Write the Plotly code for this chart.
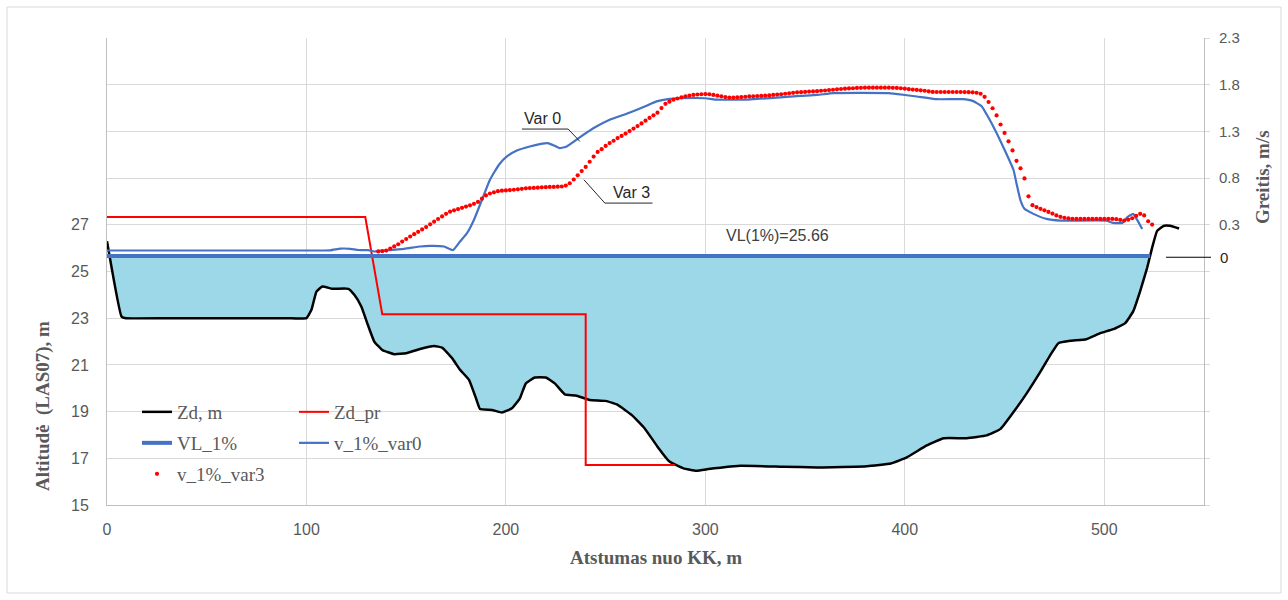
import plotly.graph_objects as go

# ---------------- data ----------------
# ground profile Zd (distance m, altitude m)
zd_x = [0, 7.3, 9.5, 30, 60, 90, 100, 102.5, 105, 108, 113, 121, 124, 127.5, 130.8, 134, 138,
        144, 150, 156.5, 164, 168, 173, 177, 181.5, 185, 187, 193, 198, 203, 207, 210, 214.5,
        220, 224.5, 229.5, 235, 242, 250, 256, 263, 269.5, 276, 282, 289, 295.5, 301.5,
        307.5, 317.5, 339, 356, 381, 393, 401, 411, 419.5, 431, 441, 448, 454.5, 461, 468,
        473, 477, 483, 491, 498, 504.5, 510.5, 514.5, 518, 521.5, 524, 526.5, 530, 533, 537.5]
zd_y = [26.3, 23.07, 23.0, 23.0, 23.0, 23.0, 23.0, 23.36, 24.14, 24.36, 24.26, 24.26, 24.0,
        23.5, 22.71, 22.0, 21.64, 21.46, 21.5, 21.67, 21.81, 21.74, 21.29, 20.79, 20.36,
        19.57, 19.11, 19.07, 18.96, 19.14, 19.57, 20.21, 20.46, 20.46, 20.21, 19.74, 19.69,
        19.5, 19.46, 19.29, 18.86, 18.29, 17.5, 16.86, 16.57, 16.47, 16.54, 16.6, 16.68,
        16.64, 16.61, 16.66, 16.78, 17.04, 17.55, 17.86, 17.86, 17.98, 18.26, 18.98, 19.77,
        20.71, 21.43, 21.93, 22.03, 22.10, 22.36, 22.53, 22.79, 23.29, 24.16, 25.16, 26.02,
        26.74, 26.96, 26.96, 26.84]

# design bottom Zd_pr
zdpr_x = [0, 129.5, 138.0, 240.0, 240.0, 284.7]
zdpr_y = [27.33, 27.33, 23.17, 23.17, 16.71, 16.71]

# water level VL 1%
vl_level = 25.66
vl_x = [0, 523]

# velocity, variant 0 (m/s)
v0_x = [0, 20, 40, 60, 80, 100, 112, 117, 122, 126, 131, 134, 140, 149, 157, 162, 169, 173.5,
        177, 180.5, 184, 188, 192, 196.5, 200.5, 205.5, 212, 217, 221, 224.5, 227, 230.5,
        237, 244, 252, 260.5, 269, 275.5, 282, 287.5, 300, 305, 321, 327.5, 337.5, 347.5,
        356, 364, 377, 392, 400, 406, 416, 429, 434, 438.5, 441.5, 446, 450, 454.5, 456,
        458, 460, 464.5, 471, 478, 501, 504.5, 509, 511.5, 514.5, 516.5, 519]
v0_y = [0.025, 0.025, 0.025, 0.025, 0.025, 0.025, 0.027, 0.045, 0.043, 0.03, 0.029, 0.014,
        0.025, 0.043, 0.068, 0.075, 0.068, 0.029, 0.121, 0.21, 0.354, 0.568, 0.782, 0.943,
        1.032, 1.096, 1.139, 1.164, 1.175, 1.146, 1.121, 1.139, 1.236, 1.336, 1.425, 1.489,
        1.561, 1.621, 1.648, 1.655, 1.655, 1.64, 1.64, 1.65, 1.664, 1.68, 1.69, 1.71, 1.712,
        1.71, 1.69, 1.674, 1.645, 1.645, 1.627, 1.57, 1.464, 1.284, 1.103, 0.887, 0.742,
        0.562, 0.471, 0.417, 0.363, 0.345, 0.345, 0.32, 0.32, 0.381, 0.417, 0.352, 0.255]

# velocity, variant 3 (m/s), stations every 2 m from 136 m
v3_start, v3_step = 136, 2
v3_y = [
    0.015, 0.018, 0.024, 0.045, 0.068, 0.092, 0.12, 0.148, 0.175, 0.2,        # 136-154
    0.225, 0.25, 0.276, 0.305, 0.333, 0.362, 0.39, 0.418, 0.44, 0.455,        # 156-174
    0.468, 0.482, 0.495, 0.508, 0.525, 0.545, 0.58, 0.615, 0.635, 0.648,      # 176-194
    0.66, 0.665, 0.668, 0.672, 0.675, 0.68, 0.685, 0.69, 0.693, 0.695,        # 196-214
    0.698, 0.701, 0.703, 0.705, 0.706, 0.708, 0.71, 0.72, 0.745, 0.785,       # 216-234
    0.83, 0.875, 0.92, 0.975, 1.03, 1.08, 1.11, 1.145, 1.175, 1.2,            # 236-254
    1.228, 1.252, 1.277, 1.304, 1.33, 1.357, 1.385, 1.415, 1.444, 1.472,      # 256-274
    1.5, 1.55, 1.595, 1.618, 1.64, 1.652, 1.665, 1.675, 1.683, 1.69,          # 276-294
    1.695, 1.698, 1.7, 1.698, 1.69, 1.682, 1.675, 1.668, 1.662, 1.662,        # 296-314
    1.665, 1.668, 1.671, 1.674, 1.676, 1.678, 1.68, 1.682, 1.685, 1.69,       # 316-334
    1.694, 1.698, 1.703, 1.708, 1.713, 1.718, 1.72, 1.723, 1.726, 1.728,      # 336-354
    1.731, 1.735, 1.738, 1.742, 1.746, 1.75, 1.754, 1.757, 1.76, 1.762,       # 356-374
    1.765, 1.767, 1.768, 1.768, 1.768, 1.768, 1.768, 1.768, 1.768, 1.767,     # 376-394
    1.765, 1.762, 1.757, 1.752, 1.748, 1.744, 1.74, 1.735, 1.728, 1.723,      # 396-414
    1.722, 1.722, 1.722, 1.722, 1.722, 1.722, 1.722, 1.721, 1.72, 1.718,      # 416-434
    1.714, 1.703, 1.67, 1.615, 1.548, 1.471, 1.374, 1.284, 1.194, 1.096,      # 436-454
    0.985, 0.905, 0.796, 0.605, 0.51, 0.49, 0.471, 0.455, 0.438, 0.42,        # 456-474
    0.4, 0.385, 0.375, 0.368, 0.365, 0.363, 0.363, 0.363, 0.363, 0.363,       # 476-494
    0.363, 0.363, 0.363, 0.363, 0.363, 0.36, 0.352, 0.345, 0.355, 0.37,       # 496-514
    0.395, 0.417, 0.4, 0.338, 0.302,                                          # 516-524
]
v3_x = [v3_start + v3_step * i for i in range(len(v3_y))]

# axis ticks
x_ticks = [0, 100, 200, 300, 400, 500]
left_ticks = [15, 17, 19, 21, 23, 25, 27, 29, 31, 33, 35]
left_labels = ["15", "17", "19", "21", "23", "25", "27", "", "", "", ""]
right_ticks = [-2.7, -2.2, -1.7, -1.2, -0.7, -0.2, 0.3, 0.8, 1.3, 1.8, 2.3]
right_labels = ["", "", "", "", "", "", "0.3", "0.8", "1.3", "1.8", "2.3"]

# ---------------- water area (ground clipped at VL) ----------------
wx, wy = [], []
for i in range(len(zd_x)):
    x0, y0 = zd_x[i], zd_y[i]
    if i > 0:
        xp, yp = zd_x[i - 1], zd_y[i - 1]
        if (yp - vl_level) * (y0 - vl_level) < 0:
            t = (vl_level - yp) / (y0 - yp)
            wx.append(xp + t * (x0 - xp))
            wy.append(vl_level)
    if y0 <= vl_level:
        wx.append(x0)
        wy.append(y0)

# ---------------- figure ----------------
W, H = 1288, 600
L, R, T, B = 107, 84, 38, 95
PW, PH = W - L - R, H - T - B

BLUE = "#4472C4"
GRID = "#D9D9D9"
GREY = "#595959"
SANS = "Liberation Sans, Arial, sans-serif"
SERIF = "Liberation Serif, Times New Roman, serif"
SMOOTH = 0.35


def px(X):
    return (X - L) / PW


def py(Y):
    return (H - B - Y) / PH


fig = go.Figure()

# base for water fill
fig.add_trace(go.Scatter(x=[wx[0], wx[-1]], y=[vl_level, vl_level], mode="lines",
                         line=dict(width=0), showlegend=False, hoverinfo="skip"))
fig.add_trace(go.Scatter(x=wx, y=wy, mode="lines", fill="tonexty", fillcolor="#9DD8E8",
                         line=dict(width=0, shape="spline", smoothing=SMOOTH),
                         showlegend=False, hoverinfo="skip"))

fig.add_trace(go.Scatter(x=zd_x, y=zd_y, mode="lines", name="Zd, m",
                         line=dict(color="black", width=2.5, shape="spline", smoothing=SMOOTH),
                         legend="legend"))
fig.add_trace(go.Scatter(x=zdpr_x, y=zdpr_y, mode="lines", name="Zd_pr",
                         line=dict(color="#FF0000", width=2), legend="legend2"))
fig.add_trace(go.Scatter(x=vl_x, y=[vl_level] * len(vl_x), mode="lines", name="VL_1%",
                         line=dict(color=BLUE, width=4), legend="legend3"))
fig.add_trace(go.Scatter(x=v0_x, y=v0_y, mode="lines", name="v_1%_var0", yaxis="y2",
                         line=dict(color=BLUE, width=2.2, shape="spline", smoothing=0.4),
                         legend="legend4"))
fig.add_trace(go.Scatter(x=v3_x, y=v3_y, mode="markers", name="v_1%_var3", yaxis="y2",
                         marker=dict(color="#FF0000", size=4.2, symbol="circle"),
                         legend="legend5"))

# legends (two columns, three rows)
legend_font = dict(family=SERIF, size=19, color=GREY)
leg_pos = {
    "legend": (137, 412), "legend2": (294, 412),
    "legend3": (137, 443), "legend4": (294, 443),
    "legend5": (137, 474),
}
legend_layout = {}
for name, (X, Y) in leg_pos.items():
    legend_layout[name] = dict(x=px(X), y=py(Y), xanchor="left", yanchor="middle",
                               bgcolor="rgba(0,0,0,0)", font=legend_font,
                               itemwidth=30, borderwidth=0)

ann = []
title_font = dict(family=SERIF, size=19, color=GREY)
# axis titles
ann.append(dict(text="<b>Atstumas nuo KK, m</b>", xref="paper", yref="paper",
                x=0.5, y=py(557), showarrow=False, xanchor="center", yanchor="middle",
                font=title_font))
ann.append(dict(text="<b>Altitudė  (LAS07), m</b>", xref="paper", yref="paper",
                x=px(43), y=py(406), showarrow=False, textangle=-90,
                xanchor="center", yanchor="middle", font=title_font))
ann.append(dict(text="<b>Greitis, m/s</b>", xref="paper", yref="paper",
                x=px(1262), y=py(177), showarrow=False, textangle=-90,
                xanchor="center", yanchor="middle", font=title_font))
# labels inside plot
ann.append(dict(text="Var 0", xref="x", yref="y", x=218.5, y=31.55, showarrow=False,
                xanchor="center", yanchor="middle",
                font=dict(family=SANS, size=16, color="#262626")))
ann.append(dict(text="Var 3", xref="x", yref="y", x=263.2, y=28.39, showarrow=False,
                xanchor="center", yanchor="middle",
                font=dict(family=SANS, size=16, color="#262626")))
ann.append(dict(text="VL(1%)=25.66", xref="x", yref="y", x=309.3, y=26.55, showarrow=False,
                xanchor="left", yanchor="middle",
                font=dict(family=SANS, size=16, color="#404040")))
ann.append(dict(text="0", xref="paper", yref="y", x=px(1224), y=vl_level - 0.05,
                showarrow=False, xanchor="center", yanchor="middle",
                font=dict(family=SANS, size=15, color="#262626")))

shapes = []
# leader lines
for (xa, ya, xb, yb) in [(208.0, 31.1, 231.2, 31.1), (231.2, 31.1, 237.1, 30.57),
                         (249.6, 27.93, 273.5, 27.93), (249.6, 27.93, 239.1, 28.93)]:
    shapes.append(dict(type="line", xref="x", yref="y", x0=xa, y0=ya, x1=xb, y1=yb,
                       line=dict(color="#262626", width=1), layer="above"))
# "0" marker line on the right
shapes.append(dict(type="line", xref="paper", yref="y", x0=px(1166), x1=px(1211),
                   y0=vl_level - 0.05, y1=vl_level - 0.05,
                   line=dict(color="black", width=1), layer="above"))
# legend background (covers gridlines)
shapes.append(dict(type="rect", xref="paper", yref="paper", x0=px(127), x1=px(440),
                   y0=py(488), y1=py(393), fillcolor="white", line=dict(width=0),
                   layer="between"))
# chart border
shapes.append(dict(type="rect", xref="paper", yref="paper", x0=px(7), x1=px(1281),
                   y0=py(593), y1=py(7), line=dict(color=GRID, width=1), layer="below"))

fig.update_layout(
    width=W, height=H, autosize=False,
    margin=dict(l=L, r=R, t=T, b=B, pad=0),
    paper_bgcolor="white", plot_bgcolor="white",
    showlegend=True,
    xaxis=dict(range=[0, 550], tickvals=x_ticks, showgrid=True, gridcolor=GRID, gridwidth=1,
               showline=True, linecolor="#BFBFBF", linewidth=1, ticks="", zeroline=False,
               tickfont=dict(family=SANS, size=16, color=GREY), ticklabelstandoff=10),
    yaxis=dict(range=[15, 35], tickvals=left_ticks, ticktext=left_labels, showgrid=True,
               gridcolor=GRID, gridwidth=1, showline=True, linecolor="#BFBFBF", linewidth=1,
               ticks="", zeroline=False, tickfont=dict(family=SANS, size=16, color=GREY),
               ticklabelstandoff=14),
    yaxis2=dict(range=[-2.7, 2.3], overlaying="y", side="right", tickvals=right_ticks,
                ticktext=right_labels, showgrid=False, showline=True, linecolor="#BFBFBF",
                linewidth=1, ticks="outside", ticklen=5, tickcolor=GRID, zeroline=False,
                tickfont=dict(family=SANS, size=15, color=GREY), ticklabelstandoff=6),
    annotations=ann,
    shapes=shapes,
    **legend_layout,
)

fig.write_html("out.html", config={"displayModeBar": False},
               post_script="document.body.style.margin='0';")
